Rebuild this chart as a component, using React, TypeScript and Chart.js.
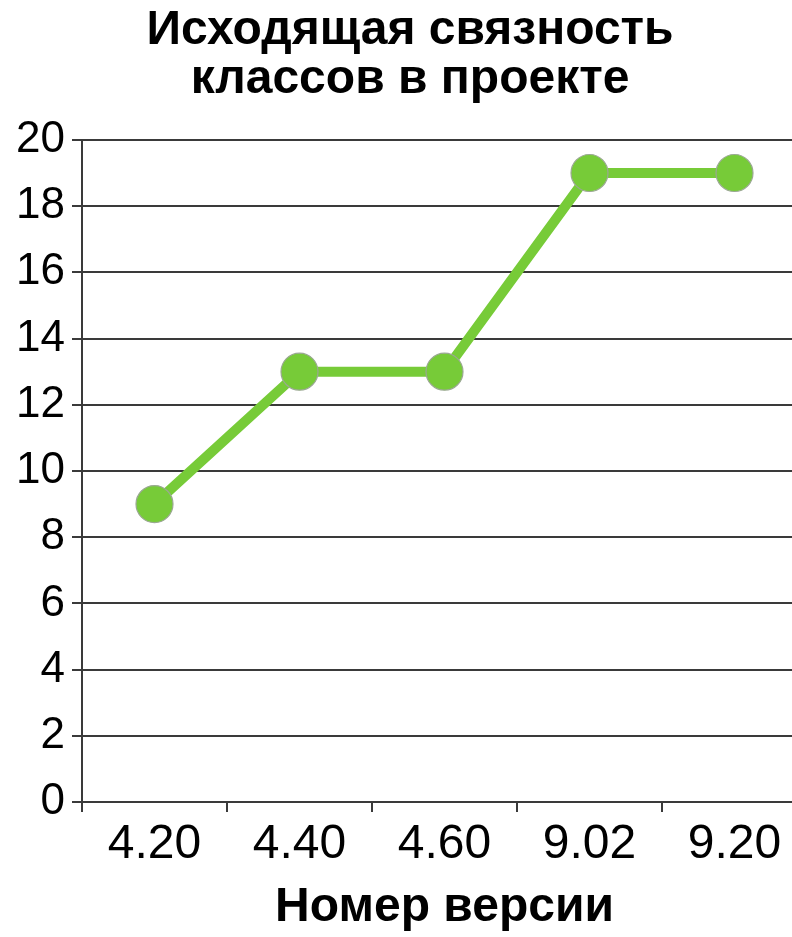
import React, { useEffect, useRef } from "react";
import { Chart, registerables } from "chart.js";

Chart.register(...registerables);

const versions = ["4.20", "4.40", "4.60", "9.02", "9.20"];
const coupling = [9, 13, 13, 19, 19];
const titleLines = ["Исходящая связность", "классов в проекте"];
const xTitle = "Номер версии";

const FONT = '"Liberation Sans", Arial, Helvetica, sans-serif';
const GREEN = "#77cb38";
const GRID = "#3a3a3a";

export default function App() {
  const ref = useRef<HTMLCanvasElement | null>(null);

  useEffect(() => {
    if (!ref.current) return;
    const chart = new Chart(ref.current, {
      type: "line",
      data: {
        labels: versions,
        datasets: [
          {
            data: coupling,
            borderColor: GREEN,
            backgroundColor: GREEN,
            borderWidth: 10,
            pointRadius: 18.5,
            pointHoverRadius: 18.5,
            pointBackgroundColor: GREEN,
            pointBorderColor: "#9aa892",
            pointBorderWidth: 1.2,
            tension: 0,
          },
        ],
      },
      options: {
        responsive: false,
        animation: false,
        layout: { autoPadding: false, padding: { left: 13, right: 13, top: 0, bottom: 0 } },
        plugins: {
          legend: { display: false },
          tooltip: { enabled: false },
          title: {
            display: true,
            text: titleLines,
            color: "#000",
            font: { family: FONT, size: 48, weight: "bold", lineHeight: 1.02 },
            padding: { top: 6.5, bottom: 35.5 },
          },
        },
        scales: {
          x: {
            offset: true,
            grid: {
              offset: true,
              drawOnChartArea: false,
              drawTicks: true,
              tickLength: 10,
              color: GRID,
              lineWidth: 2,
            },
            border: { display: true, color: GRID, width: 2 },
            ticks: {
              color: "#000",
              padding: 4,
              font: { family: FONT, size: 48 },
              maxRotation: 0,
            },
            title: {
              display: true,
              text: xTitle,
              color: "#000",
              font: { family: FONT, size: 48, weight: "bold" },
              padding: { top: 0, bottom: 0 },
            },
            afterFit: (s: any) => {
              s.height = 135;
              s.paddingLeft = 0;
              s.paddingRight = 0;
            },
          },
          y: {
            min: 0,
            max: 20,
            grid: {
              drawTicks: true,
              tickLength: 10,
              color: GRID,
              lineWidth: 2,
            },
            border: { display: true, color: GRID, width: 2 },
            ticks: {
              stepSize: 2,
              color: "#000",
              padding: 7,
              font: { family: FONT, size: 44 },
            },
            afterFit: (s: any) => {
              s.width = 69;
            },
          },
        },
      },
    });
    return () => chart.destroy();
  }, []);

  return (
    <div
      style={{
        position: "fixed",
        left: 0,
        top: 0,
        width: 792,
        height: 937,
        overflow: "hidden",
        background: "#fff",
      }}
    >
      <canvas ref={ref} width={820} height={937} style={{ display: "block" }} />
    </div>
  );
}
